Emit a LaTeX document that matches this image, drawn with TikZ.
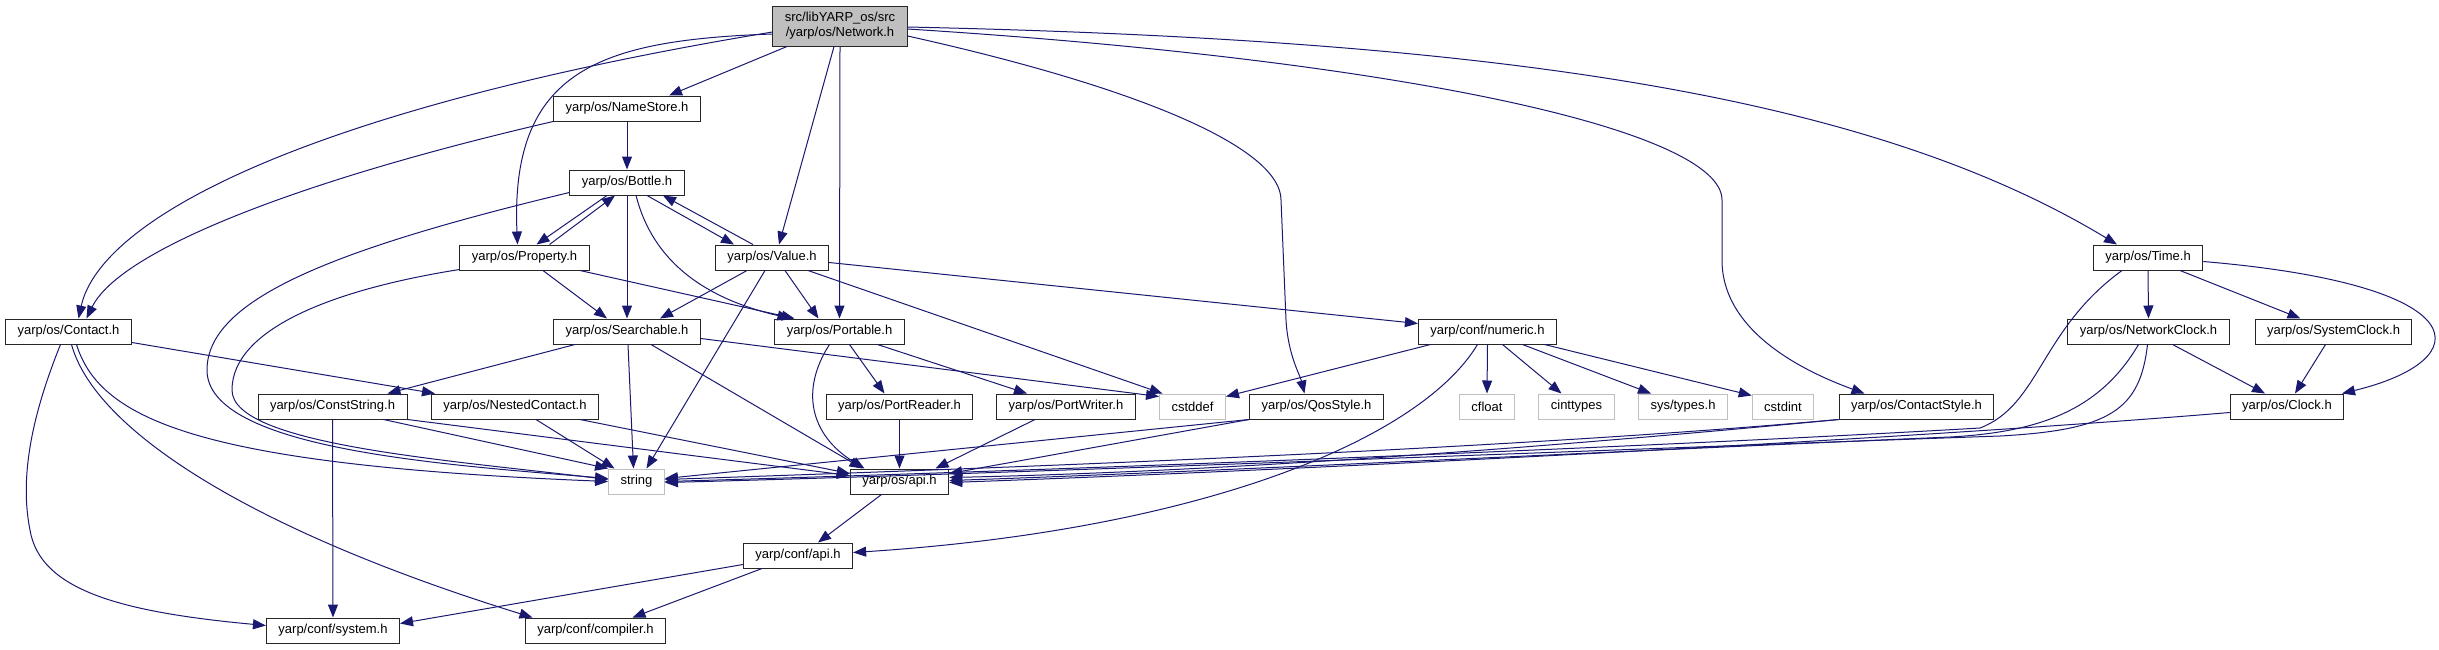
\documentclass[tikz,border=0pt]{standalone}
\usepackage{fontspec}
\setmainfont{Liberation Sans}
\usepackage{tikz}
\usetikzlibrary{arrows.meta}
\definecolor{EdgeBlue}{RGB}{25,25,112}
\definecolor{FileGray}{RGB}{191,191,191}

\begin{document}
\begin{tikzpicture}[x=1pt,y=-1pt,
  file/.style={draw=black!85,line width=1pt,fill=white,font=\fontsize{13}{15}\selectfont,
    inner xsep=12pt,inner ysep=0pt,minimum height=25pt},
  sysfile/.style={file,draw=FileGray},
  dep/.style={EdgeBlue,line width=1pt,-{Triangle[length=13pt,width=10pt]}}]
  \useasboundingbox (0,0) rectangle (2439,649);
  \node[file,fill=FileGray,align=center,minimum height=40pt] (net) at (840,26) {src/libYARP\_os/src\\/yarp/os/Network.h};
  \node[file] (nstore) at (627,108.5) {yarp/os/NameStore.h};
  \node[file] (bottle) at (627,182.5) {yarp/os/Bottle.h};
  \node[file] (prop) at (524.5,257.5) {yarp/os/Property.h};
  \node[file] (value) at (772,257.5) {yarp/os/Value.h};
  \node[file] (time) at (2148,257.5) {yarp/os/Time.h};
  \node[file] (contact) at (68.5,331.5) {yarp/os/Contact.h};
  \node[file] (search) at (627,331.5) {yarp/os/Searchable.h};
  \node[file] (portable) at (839.5,331.5) {yarp/os/Portable.h};
  \node[file] (numeric) at (1487.5,331.5) {yarp/conf/numeric.h};
  \node[file] (nclock) at (2148.5,331.5) {yarp/os/NetworkClock.h};
  \node[file] (sclock) at (2333.5,331.5) {yarp/os/SystemClock.h};
  \node[file] (cstr) at (332.5,406.5) {yarp/os/ConstString.h};
  \node[file] (nested) at (515,406.5) {yarp/os/NestedContact.h};
  \node[file] (preader) at (899.5,406.5) {yarp/os/PortReader.h};
  \node[file] (pwriter) at (1066,406.5) {yarp/os/PortWriter.h};
  \node[sysfile] (cstddef) at (1192.5,406.5) {cstddef};
  \node[file] (qos) at (1316.5,406.5) {yarp/os/QosStyle.h};
  \node[sysfile] (cfloat) at (1487,406.5) {cfloat};
  \node[sysfile] (cint) at (1576.5,406.5) {cinttypes};
  \node[sysfile] (systypes) at (1683,406.5) {sys/types.h};
  \node[sysfile] (cstdint) at (1783,406.5) {cstdint};
  \node[file] (cstyle) at (1916.5,406.5) {yarp/os/ContactStyle.h};
  \node[file] (clock) at (2287,406.5) {yarp/os/Clock.h};
  \node[sysfile] (str) at (636.5,481.5) {string};
  \node[file] (osapi) at (899.5,481.5) {yarp/os/api.h};
  \node[file] (confapi) at (798,555.5) {yarp/conf/api.h};
  \node[file] (sys) at (333,630.5) {yarp/conf/system.h};
  \node[file] (compiler) at (595.5,630.5) {yarp/conf/compiler.h};

  \draw[dep] ([yshift=-6pt]net.west) .. controls (300,110) and (100,220) .. ([xshift=10pt]contact.north);
  \draw[dep] ([yshift=-8pt]net.west) .. controls (600,40) and (510,70) .. ([xshift=-7pt]prop.north);
  \draw[dep] ([xshift=-53pt]net.south) -- ([xshift=42pt]nstore.north);
  \draw[dep] ([xshift=-6pt]net.south) -- ([xshift=7pt]value.north);
  \draw[dep] (net.south) -- (portable.north);
  \draw[dep] ([yshift=-10pt]net.east) .. controls (1150,90) and (1281,150) .. (1281,200) -- (1286,320) .. controls (1288,355) and (1300,375) .. ([xshift=-12pt]qos.north);
  \draw[dep] ([yshift=-3pt]net.east) .. controls (1400,60) and (1722,130) .. (1722,200) -- (1722,260) .. controls (1722,330) and (1800,370) .. ([xshift=-52pt]cstyle.north);
  \draw[dep] ([yshift=-1pt]net.east) .. controls (1500,40) and (1870,95) .. ([xshift=-31pt]time.north);

  \draw[dep] (nstore.south west) .. controls (300,180) and (120,250) .. ([xshift=18pt]contact.north);
  \draw[dep] (nstore.south) -- (bottle.north);

  \draw[dep] ([xshift=-20pt]bottle.south) -- ([xshift=12pt]prop.north);
  \draw[dep] ([xshift=25pt]prop.north) -- ([xshift=-12pt]bottle.south);
  \draw[dep] ([xshift=20pt]bottle.south) -- ([xshift=-38pt]value.north);
  \draw[dep] ([xshift=-19pt]value.north) -- ([xshift=36pt]bottle.south);
  \draw[dep] (bottle.south) -- (search.north);
  \draw[dep] ([xshift=9pt]bottle.south) .. controls (650,250) and (690,295) .. ([xshift=-49pt]portable.north);
  \draw[dep] ([yshift=-10pt]bottle.west) .. controls (330,250) and (207,300) .. (207,370) .. controls (207,450) and (450,465) .. ([yshift=3pt]str.west);

  \draw[dep] ([yshift=-12pt]prop.west) .. controls (330,290) and (232,330) .. (232,390) .. controls (232,445) and (450,460) .. ([yshift=2pt]str.west);
  \draw[dep] ([xshift=18.5pt]prop.south) -- ([xshift=-20pt]search.north);
  \draw[dep] ([xshift=55.5pt]prop.south) -- ([xshift=-45pt]portable.north);

  \draw[dep] ([xshift=-25pt]value.south) -- ([xshift=33pt]search.north);
  \draw[dep] ([xshift=13pt]value.south) -- ([xshift=-21pt]portable.north);
  \draw[dep] ([xshift=-7pt]value.south) -- ([xshift=10pt]str.north);
  \draw[dep] ([xshift=36pt]value.south) -- ([xshift=-30pt]cstddef.north);
  \draw[dep] ([yshift=-5pt]value.east) -- ([yshift=8pt]numeric.west);

  \draw[dep] ([yshift=-11pt]contact.east) -- ([xshift=-80pt]nested.north);
  \draw[dep] ([xshift=8pt]contact.south) .. controls (100,420) and (200,465) .. (str.west);
  \draw[dep] ([xshift=-8pt]contact.south) .. controls (30,420) and (20,480) .. (30,530) .. controls (40,590) and (120,612) .. ([yshift=5pt]sys.west);
  \draw[dep] ([xshift=3pt]contact.south) .. controls (95,430) and (250,530) .. ([xshift=-63pt]compiler.north);

  \draw[dep] ([xshift=-52pt]search.south) -- ([xshift=55pt]cstr.north);
  \draw[dep] ([xshift=1pt]search.south) -- ([xshift=-3pt]str.north);
  \draw[dep] ([xshift=24pt]search.south) -- ([xshift=-37pt]osapi.north);
  \draw[dep] ([yshift=-7pt]search.east) -- ([yshift=-3pt]cstddef.north west);

  \draw[dep] ([xshift=10pt]portable.south) -- ([xshift=-15pt]preader.north);
  \draw[dep] ([xshift=38pt]portable.south) -- ([xshift=-39pt]pwriter.north);
  \draw[dep] ([xshift=-10pt]portable.south) .. controls (800,390) and (810,435) .. ([xshift=-35pt]osapi.north);
  \draw[dep] (preader.south) -- (osapi.north);
  \draw[dep] ([xshift=-31pt]pwriter.south) -- ([xshift=36pt]osapi.north);

  \draw[dep] ([xshift=51pt]cstr.south) -- (str.north west);
  \draw[dep] (cstr.south east) -- ([yshift=6pt]osapi.west);
  \draw[dep] (cstr.south) -- (sys.north);
  \draw[dep] ([xshift=21pt]nested.south) -- ([xshift=-22pt]str.north);
  \draw[dep] ([xshift=65pt]nested.south) -- ([yshift=8pt]osapi.west);

  \draw[dep] ([xshift=-18pt]osapi.south) -- ([xshift=20pt]confapi.north);
  \draw[dep] ([xshift=-10pt]numeric.south) .. controls (1420,440) and (1200,530) .. ([yshift=3pt]confapi.east);
  \draw[dep] ([yshift=-9pt]confapi.west) -- ([yshift=7pt]sys.east);
  \draw[dep] ([xshift=-36pt]confapi.south) -- ([xshift=37pt]compiler.north);

  \draw[dep] ([xshift=-57pt]numeric.south) -- ([yshift=-3pt]cstddef.north east);
  \draw[dep] (numeric.south) -- (cfloat.north);
  \draw[dep] ([xshift=15pt]numeric.south) -- ([xshift=-15pt]cint.north);
  \draw[dep] ([xshift=35pt]numeric.south) -- ([xshift=-32pt]systypes.north);
  \draw[dep] ([xshift=57pt]numeric.south) -- ([yshift=-2pt]cstdint.north west);

  \draw[dep] (qos.south west) -- ([yshift=3pt]str.east);
  \draw[dep] (qos.south west) -- ([yshift=8pt]osapi.east);
  \draw[dep] (cstyle.south west) .. controls (1500,450) and (1000,468) .. ([yshift=2pt]str.east);
  \draw[dep] (cstyle.south west) .. controls (1500,452) and (1200,472) .. ([yshift=4pt]osapi.east);

  \draw[dep] ([xshift=-26pt]time.south) .. controls (2040,330) and (2040,405) .. (1980,428) .. controls (1600,450) and (1000,472) .. (str.east);
  \draw[dep] (time.south) -- (nclock.north);
  \draw[dep] ([xshift=32pt]time.south) -- ([xshift=-33pt]sclock.north);
  \draw[dep] ([yshift=-4pt]time.east) .. controls (2480,285) and (2480,360) .. ([xshift=55pt]clock.north);
  \draw[dep] ([xshift=-10pt]nclock.south) .. controls (2100,410) and (2040,432) .. (1950,437) .. controls (1600,452) and (1200,472) .. ([yshift=1pt]osapi.east);
  \draw[dep] ([xshift=-1pt]nclock.south) .. controls (2140,410) and (2110,430) .. (2000,436) .. controls (1600,450) and (1000,474) .. ([yshift=-1pt]str.east);
  \draw[dep] ([xshift=24pt]nclock.south) -- ([xshift=-22pt]clock.north);
  \draw[dep] ([xshift=-8pt]sclock.south) -- ([xshift=8pt]clock.north);
  \draw[dep] ([yshift=-6pt]clock.west) .. controls (1900,440) and (1300,470) .. ([yshift=-1pt]osapi.east);
\end{tikzpicture}
\end{document}
